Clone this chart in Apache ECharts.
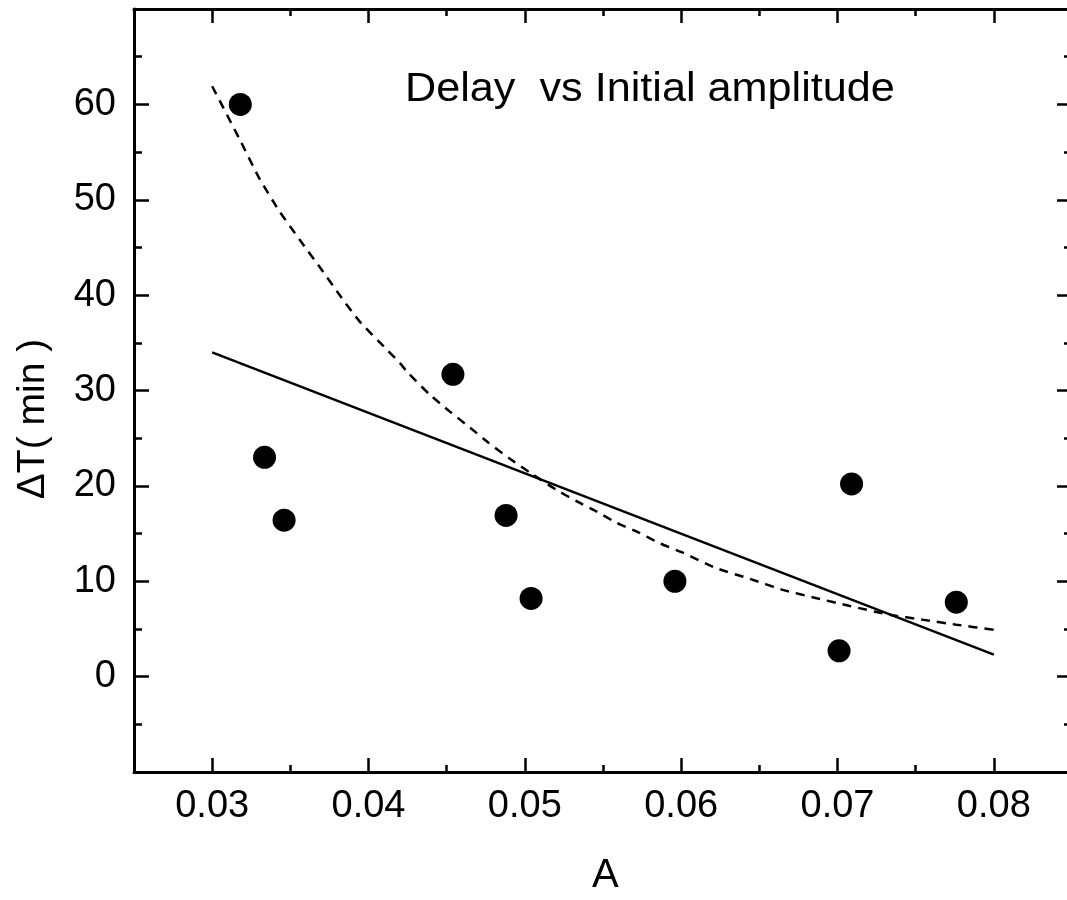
<!DOCTYPE html>
<html>
<head>
<meta charset="utf-8">
<script src="https://cdn.jsdelivr.net/npm/echarts@6/dist/echarts.min.js"></script>
<style>
html,body{margin:0;padding:0;background:#fff;}
#chart{width:1067px;height:900px;}
</style>
</head>
<body>
<div id="chart"></div>
<script>
// ---- data ----
const pointsA = [0.0318, 0.03335, 0.0346, 0.0454, 0.0488, 0.0504, 0.0596, 0.0701, 0.0709, 0.0776];
const pointsDT = [60.0, 23.0, 16.4, 31.7, 16.9, 8.2, 10.0, 2.7, 20.2, 7.8];

const linFitA = [0.03, 0.08];
const linFitDT = [34.0, 2.3];

const expFitA = [0.0300, 0.0318, 0.0330, 0.0343, 0.0356, 0.0369, 0.0382, 0.0394, 0.0411, 0.0420, 0.0425,
  0.0439, 0.0452, 0.0465, 0.0477, 0.0490, 0.0505, 0.0520, 0.0533, 0.0546, 0.0559, 0.0573, 0.0586,
  0.0601, 0.0622, 0.0644, 0.0665, 0.0686, 0.0708, 0.0733, 0.0755, 0.0776, 0.0800];
const expFitDT = [61.9, 56.2, 52.3, 48.8, 45.8, 42.9, 39.9, 37.3, 34.4, 32.9, 31.9,
  29.6, 27.8, 26.1, 24.5, 22.9, 21.2, 19.6, 18.4, 17.3, 16.1, 15.1, 14.0,
  13.0, 11.4, 10.25, 9.1, 8.25, 7.4, 6.5, 5.95, 5.45, 4.9];

const xMajorTicks = [0.03, 0.04, 0.05, 0.06, 0.07, 0.08];
const xMinorTicks = [0.035, 0.045, 0.055, 0.065, 0.075];
const yTickLabels = [0, 10, 20, 30, 40, 50, 60];

const titleText = 'Delay  vs Initial amplitude';
const xName = 'A';
const yName = '\u0394T( min )';

// ---- chart ----
const FONT = 'Liberation Sans, Arial, sans-serif';
const zip = (a, b) => a.map((v, i) => [v, b[i]]);
const chart = echarts.init(document.getElementById('chart'), null, {renderer: 'canvas'});

const lineStyleAxis = {color: '#000', width: 3};
function xAxisMajor(pos, showLabel) {
  return {
    type: 'value', position: pos, min: 0.025, max: 0.085,
    axisLine: {show: true, onZero: false, lineStyle: lineStyleAxis},
    axisTick: {show: true, inside: true, length: 14, customValues: xMajorTicks, lineStyle: {color: '#000', width: 2.5}},
    axisLabel: {show: showLabel, customValues: xMajorTicks, margin: 16, color: '#000', fontSize: 38, fontFamily: FONT,
      formatter: v => v.toFixed(2)},
    splitLine: {show: false}
  };
}
function xAxisMinor(pos) {
  return {
    type: 'value', position: pos, min: 0.025, max: 0.085,
    axisLine: {show: false, onZero: false},
    axisTick: {show: true, inside: true, length: 7, customValues: xMinorTicks, lineStyle: {color: '#000', width: 2.5}},
    axisLabel: {show: false},
    splitLine: {show: false}
  };
}
function yAxis(pos, showLabel) {
  return {
    type: 'value', position: pos, min: -10, max: 70, interval: 10,
    axisLine: {show: true, onZero: false, lineStyle: lineStyleAxis},
    axisTick: {show: true, inside: true, length: 15, lineStyle: {color: '#000', width: 2.5}},
    minorTick: {show: true, splitNumber: 2, length: 8, lineStyle: {color: '#000', width: 2.5}},
    axisLabel: {show: showLabel, margin: 18, color: '#000', fontSize: 38, fontFamily: FONT,
      formatter: v => (yTickLabels.indexOf(v) >= 0 ? String(v) : '')},
    splitLine: {show: false}, minorSplitLine: {show: false}
  };
}

chart.setOption({
  animation: false,
  backgroundColor: '#fff',
  grid: {left: 134, width: 938, top: 9, bottom: 128, containLabel: false, outerBoundsMode: 'none'},
  xAxis: [xAxisMajor('bottom', true), xAxisMinor('bottom'), xAxisMajor('top', false), xAxisMinor('top')],
  yAxis: [yAxis('left', true), yAxis('right', false)],
  graphic: [
    {type: 'text', left: 405, top: 70, scaleX: 1.08, style: {text: titleText, font: '40px ' + FONT, fill: '#000'}},
    {type: 'text', left: 592, top: 856, style: {text: xName, font: '40px ' + FONT, fill: '#000'}},
    {type: 'text', x: 14, y: 419, rotation: Math.PI / 2,
      style: {text: yName, font: '39px ' + FONT, fill: '#000', align: 'center', verticalAlign: 'top'}}
  ],
  series: [
    {type: 'line', xAxisIndex: 0, yAxisIndex: 0, data: zip(linFitA, linFitDT), showSymbol: false,
      lineStyle: {color: '#000', width: 2.5}, z: 2},
    {type: 'line', xAxisIndex: 0, yAxisIndex: 0, data: zip(expFitA, expFitDT), showSymbol: false, smooth: 0.2,
      lineStyle: {color: '#000', width: 2.5, type: [9, 7]}, z: 2},
    {type: 'scatter', xAxisIndex: 0, yAxisIndex: 0, data: zip(pointsA, pointsDT), symbol: 'circle', symbolSize: 23,
      itemStyle: {color: '#000', opacity: 1}, z: 3}
  ]
});
</script>
</body>
</html>
